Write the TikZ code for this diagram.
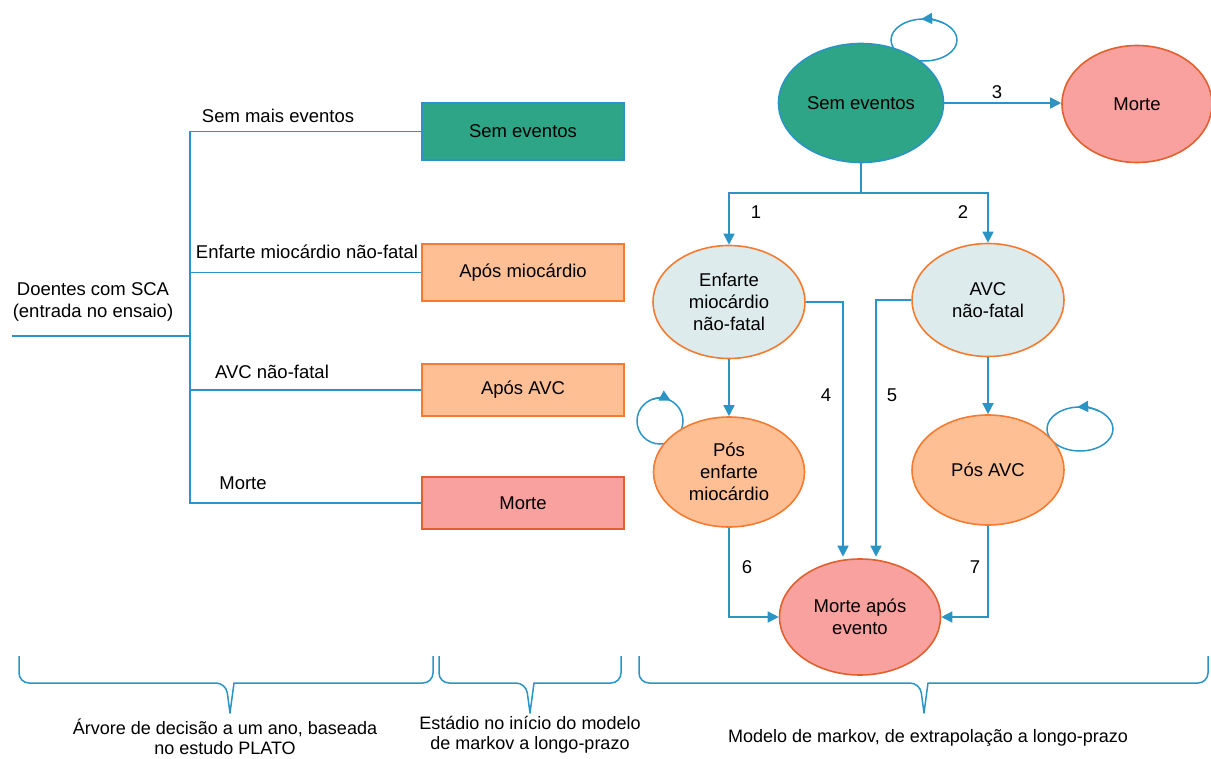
\documentclass[tikz,border=0pt]{standalone}
\usepackage{fontspec}
\setmainfont{Liberation Sans}
\usetikzlibrary{shapes.geometric,arrows.meta,calc}
\definecolor{lnblue}{HTML}{2A95C5}
\definecolor{teal}{HTML}{2DA586}
\definecolor{peach}{HTML}{FFBF95}
\definecolor{orng}{HTML}{F47B30}
\definecolor{pinkf}{HTML}{F9A19E}
\definecolor{redb}{HTML}{E0602E}
\definecolor{paleb}{HTML}{DEEBEC}
\begin{document}
\begin{tikzpicture}[x=1pt,y=-1pt,
  every node/.style={font=\fontsize{18.5pt}{22pt}\selectfont, align=center, inner sep=0pt},
  ln/.style={draw=lnblue, line width=1.5pt},
  arr/.style={ln, -{Triangle[length=11pt,width=11pt]}},
  tip/.style={ln, -{Triangle[length=11pt,width=11pt]}, shorten <=0pt},
  box/.style={rectangle, minimum width=202pt, line width=2pt},
  st/.style={ellipse, line width=1.6pt},
  brace/.style={draw=lnblue, line width=1.5pt, line join=round},
  bt/.style={font=\fontsize{18pt}{20pt}\selectfont}]
\useasboundingbox (0,0) rectangle (1211,759);

% ---------- decision tree ----------
\node (root) at (93,302) {Doentes com SCA\\(entrada no ensaio)};
\coordinate (r0) at (12,336);
\coordinate (j) at (190,336);
\node[box, minimum height=57pt, fill=teal, draw=lnblue] (b1) at (523,131.5) {Sem eventos};
\node[box, minimum height=57pt, fill=peach, draw=orng] (b2) at (523,272.5) {Após miocárdio};
\node[box, minimum height=52pt, fill=peach, draw=orng] (b3) at (523,390) {Após AVC};
\node[box, minimum height=52pt, fill=pinkf, draw=redb] (b4) at (523,503) {Morte};
\draw[ln] (r0) -- (j);
\draw[ln] (j) |- (b1.west);
\draw[ln] (j) |- (b2.west);
\draw[ln] (j) |- (b3.west);
\draw[ln] (j) |- (b4.west);
\node (l1) at (278,116) {Sem mais eventos};
\node (l2) at (307,252) {Enfarte miocárdio não-fatal};
\node (l3) at (272,372) {AVC não-fatal};
\node (l4) at (243,483) {Morte};

% ---------- self loops (behind nodes) ----------
\draw[ln] (924,40) ellipse [x radius=33, y radius=21];
\draw[tip] ($(924,40)+({33*cos(-55)},{21*sin(-55)})$) arc[start angle=-55, end angle=-95, x radius=33, y radius=21];
\draw[ln] (660,421) circle [radius=23];
\draw[tip] ($(660,421)+({23*cos(-110)},{23*sin(-110)})$) arc[start angle=-110, end angle=-62, radius=23];
\draw[ln] (1080,429) ellipse [x radius=33, y radius=22];
\draw[tip] ($(1080,429)+({33*cos(-55)},{22*sin(-55)})$) arc[start angle=-55, end angle=-95, x radius=33, y radius=22];

% ---------- markov model ----------
\node[st, minimum width=165pt, minimum height=119pt, fill=teal, draw=lnblue] (se) at (861,103) {Sem eventos};
\node[st, minimum width=150pt, minimum height=117pt, fill=pinkf, draw=redb] (mo) at (1137,104) {Morte};
\node[st, minimum width=152pt, minimum height=113pt, fill=paleb, draw=orng] (enf) at (729,302) {Enfarte\\miocárdio\\não-fatal};
\node[st, minimum width=152pt, minimum height=113pt, fill=paleb, draw=orng] (avc) at (988,300) {AVC\\não-fatal};
\node[st, minimum width=151pt, minimum height=110pt, fill=peach, draw=orng] (pe) at (729,472) {Pós\\enfarte\\miocárdio};
\node[st, minimum width=152pt, minimum height=110pt, fill=peach, draw=orng] (pa) at (988,470) {Pós AVC};
\node[st, minimum width=161pt, minimum height=116pt, fill=pinkf, draw=redb] (mae) at (860,617) {Morte após\\evento};

\coordinate (split) at (861,193);
\draw[ln] (se.south) -- (split);
\draw[arr] (split) -| (enf.north);
\draw[arr] (split) -| (avc.north);
\draw[arr] (se.east) -- (se.east -| mo.west);
\draw[arr] (enf.south) -- (pe.north);
\draw[arr] (avc.south) -- (pa.north);
\draw[arr] (enf.east) -| ([xshift=-17pt,yshift=1.5pt]mae.north);
\draw[arr] (avc.west) -| ([xshift=16pt,yshift=1.5pt]mae.north);
\draw[arr] (pe.south) |- (mae.west);
\draw[arr] (pa.south) |- (mae.east);

\node (n1) at (756,212) {1};
\node (n2) at (963,212) {2};
\node (n3) at (997,92) {3};
\node (n4) at (826,395) {4};
\node (n5) at (892,395) {5};
\node (n6) at (747,567) {6};
\node (n7) at (975,567) {7};

% ---------- braces ----------
\draw[brace] (19,656) [rounded corners=10pt] -- (19,683) -- (226,683) [sharp corners] -- (230,713) -- (234,683) [rounded corners=10pt] -- (433,683) -- (433,656);
\draw[brace] (439,656) [rounded corners=10pt] -- (439,683) -- (526,683) [sharp corners] -- (530,713) -- (534,683) [rounded corners=10pt] -- (621,683) -- (621,656);
\draw[brace] (639,656) [rounded corners=10pt] -- (639,683) -- (920,683) [sharp corners] -- (924,713) -- (928,683) [rounded corners=10pt] -- (1208,683) -- (1208,656);

\node[bt] (t1) at (225,737) {Árvore de decisão a um ano, baseada\\no estudo PLATO};
\node[bt] (t2) at (530,735) {Estádio no início do modelo\\de markov a longo-prazo};
\node[bt] (t3) at (928,738) {Modelo de markov, de extrapolação a longo-prazo};
\end{tikzpicture}
\end{document}
